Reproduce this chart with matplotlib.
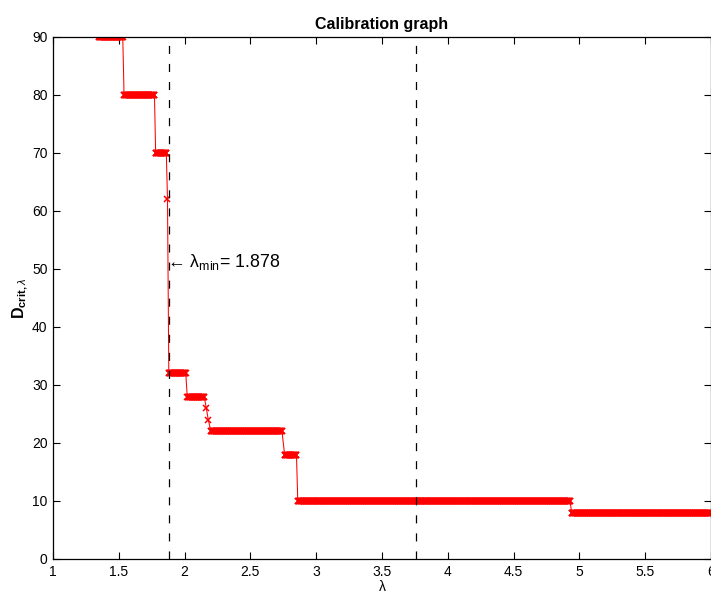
import numpy as np
import matplotlib
matplotlib.use("Agg")
import matplotlib.pyplot as plt
from matplotlib.ticker import FormatStrFormatter

plt.rcParams['font.family'] = ['Liberation Sans', 'DejaVu Sans']
plt.rcParams['mathtext.fontset'] = 'custom'
plt.rcParams['mathtext.rm'] = 'Liberation Sans'
plt.rcParams['mathtext.it'] = 'Liberation Sans:italic'
plt.rcParams['mathtext.bf'] = 'Liberation Sans:bold'
plt.rcParams['lines.scale_dashes'] = False

# plateaus of the calibration curve: start, end (lambda) and D_crit level
seg_start = [1.35, 1.54, 1.78, 1.87, 1.88, 2.02, 2.165, 2.18, 2.20, 2.76, 2.86, 4.94]
seg_end   = [1.53, 1.77, 1.86, 1.87, 2.01, 2.15, 2.165, 2.18, 2.74, 2.85, 4.93, 6.00]
seg_level = [90, 80, 70, 62, 32, 28, 26, 24, 22, 18, 10, 8]
lam_step = 0.003    # sampling step of lambda

lam_min = 1.878
xticks = [1, 1.5, 2, 2.5, 3, 3.5, 4, 4.5, 5, 5.5, 6]
yticks = [0, 10, 20, 30, 40, 50, 60, 70, 80, 90]

# sample points on each plateau
lam, D = [], []
for a, b, lev in zip(seg_start, seg_end, seg_level):
    pts = np.arange(a, b + lam_step / 2, lam_step)
    lam.extend(pts)
    D.extend([lev] * len(pts))

fig = plt.figure(figsize=(7.11, 5.97), dpi=100)
ax = fig.add_axes([53 / 711, 38 / 597, 658 / 711, 522 / 597])

ax.plot(lam, D, color='red', lw=0.75, marker='x', markersize=5, mew=1.1)

ax.axvline(lam_min, color='k', lw=0.9, ls=(0, (5.8, 7.2)))
ax.axvline(2 * lam_min, color='k', lw=0.9, ls=(0, (5.8, 7.2)))

ax.text(lam_min - 0.012, 51.2, '\u2190 \u03bb$_{\\mathrm{min}}$= 1.878', fontsize=12.8,
        va='center', ha='left')

ax.set_xlim(1, 6)
ax.set_ylim(0, 90)
ax.set_xticks(xticks)
ax.set_yticks(yticks)
ax.xaxis.set_major_formatter(FormatStrFormatter('%g'))
ax.tick_params(direction='in', length=5, width=0.8, top=True, right=True,
               labelsize=10, pad=4)
for s in ax.spines.values():
    s.set_linewidth(0.9)

ax.set_title('Calibration graph', fontsize=11.5, fontweight='bold', pad=6)
ax.set_xlabel('\u03bb', fontsize=10, labelpad=1)
ax.set_ylabel('$\\mathbf{D}_{\\mathbf{crit,}\\lambda}$', fontsize=11.5, labelpad=1)

fig.savefig('out.png', dpi=100)
